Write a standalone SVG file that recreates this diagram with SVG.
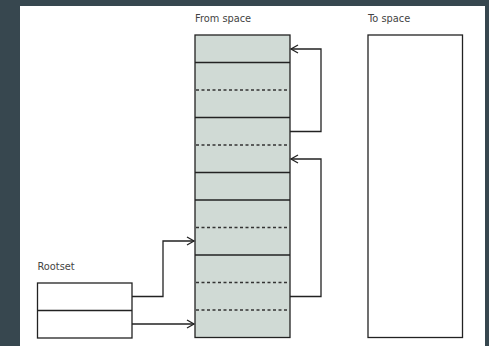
<svg xmlns="http://www.w3.org/2000/svg" width="489" height="346" viewBox="0 0 489 346">
<defs>
<marker id="ah" markerWidth="10" markerHeight="10" refX="8" refY="5" orient="auto" markerUnits="userSpaceOnUse">
<path d="M1,1 L8,5 L1,9" fill="none" stroke="#222" stroke-width="1.3"/>
</marker>
</defs>
<style>
.lbl{font-family:"DejaVu Sans",sans-serif;font-size:9.8px;fill:#444}
.box{stroke:#222;stroke-width:1.3}
.sep{stroke:#222;stroke-width:1.3}
.dash{stroke:#333;stroke-width:1.3;stroke-dasharray:3,2.5}
.conn{fill:none;stroke:#222;stroke-width:1.3;marker-end:url(#ah)}
</style>
<rect x="0" y="0" width="489" height="346" fill="#37474f"/>
<rect x="20" y="6" width="465" height="340" fill="#ffffff"/>
<g id="from-space">
<text class="lbl" x="195" y="22">From space</text>
<rect class="box" x="195" y="35" width="95" height="302.5" fill="#d0dad5"/>
<line class="sep" x1="195" y1="62.5" x2="290" y2="62.5"/>
<line class="dash" x1="196" y1="90" x2="289" y2="90"/>
<line class="sep" x1="195" y1="117.5" x2="290" y2="117.5"/>
<line class="dash" x1="196" y1="145" x2="289" y2="145"/>
<line class="sep" x1="195" y1="172.5" x2="290" y2="172.5"/>
<line class="sep" x1="195" y1="200" x2="290" y2="200"/>
<line class="dash" x1="196" y1="227.5" x2="289" y2="227.5"/>
<line class="sep" x1="195" y1="255" x2="290" y2="255"/>
<line class="dash" x1="196" y1="282.5" x2="289" y2="282.5"/>
<line class="dash" x1="196" y1="310" x2="289" y2="310"/>
</g>
<g id="to-space">
<text class="lbl" x="368" y="22">To space</text>
<rect class="box" x="368" y="35" width="94.5" height="302.5" fill="#ffffff"/>
</g>
<g id="rootset">
<text class="lbl" x="37.5" y="270">Rootset</text>
<rect class="box" x="37.5" y="283" width="94.5" height="55" fill="#ffffff"/>
<line class="sep" x1="37.5" y1="310.5" x2="132" y2="310.5"/>
</g>
<g id="connectors">
<path class="conn" d="M290,131.5 H321 V49 H291"/>
<path class="conn" d="M290,296.5 H321 V159 H291"/>
<path class="conn" d="M132,296.5 H163 V241 H194"/>
<path class="conn" d="M132,324 H194"/>
</g>
</svg>
